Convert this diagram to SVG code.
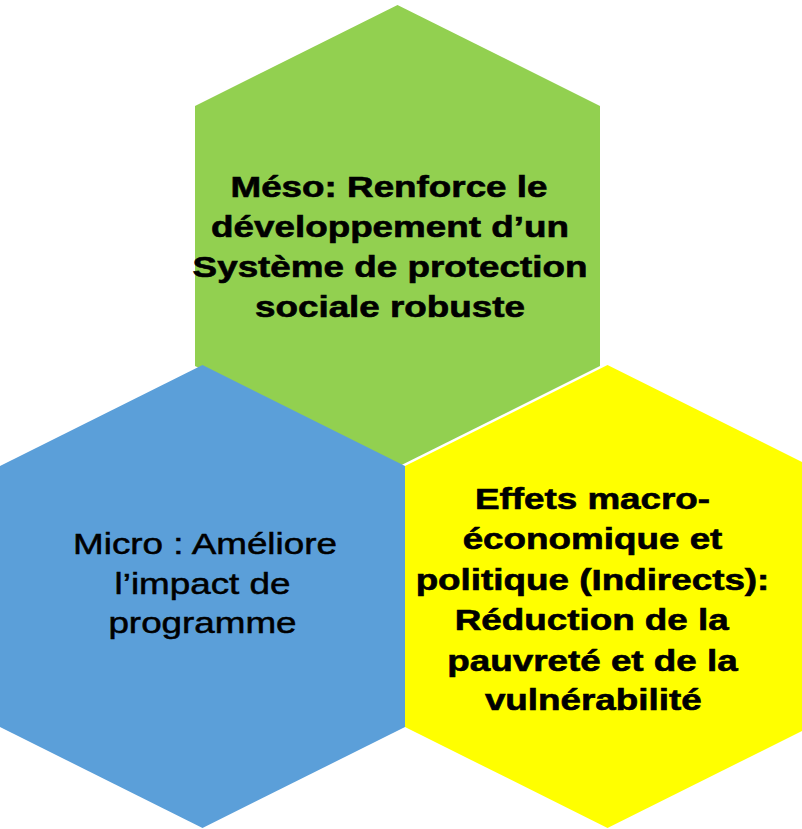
<svg xmlns="http://www.w3.org/2000/svg" width="802" height="829" viewBox="0 0 802 829">
  <style>
    .t { font-family: "Liberation Sans", Arial, sans-serif; font-size: 29px; fill: #000; text-anchor: middle; stroke: #000; stroke-width: 0.5px; }
    .b { font-weight: bold; stroke-width: 0.6px; }
  </style>
  <rect width="802" height="829" fill="#fff"/>
  <g id="meso">
    <polygon points="397.5,5 600,106 600,366 397.5,467 195,366 195,106" fill="#92D050"/>
  </g>
  <g id="micro">
    <polygon points="202.5,365 405,466 405,727 202.5,828 0,727 0,466" fill="#5B9FD9"/>
  </g>
  <g id="macro">
    <polygon points="607.5,365 810,466 810,727 607.5,828 405,727 405,466" fill="#FFFF00"/>
  </g>
  <g id="labels">
    <text class="t b" transform="translate(389,197) scale(1.27,1)">Méso: Renforce le</text>
    <text class="t b" transform="translate(390,236.5) scale(1.27,1)">développement d’un</text>
    <text class="t b" transform="translate(390,276.5) scale(1.27,1)">Système de protection</text>
    <text class="t b" transform="translate(390,316.5) scale(1.27,1)">sociale robuste</text>

    <text class="t" transform="translate(205,554) scale(1.27,1)">Micro : Améliore</text>
    <text class="t" transform="translate(202.5,594) scale(1.27,1)">l’impact de</text>
    <text class="t" transform="translate(202.5,633) scale(1.27,1)">programme</text>

    <text class="t b" transform="translate(592.5,508.5) scale(1.27,1)">Effets macro-</text>
    <text class="t b" transform="translate(592.5,549) scale(1.27,1)">économique et</text>
    <text class="t b" transform="translate(592.5,589.5) scale(1.27,1)">politique (Indirects):</text>
    <text class="t b" transform="translate(591.7,630) scale(1.27,1)">Réduction de la</text>
    <text class="t b" transform="translate(592.5,670.5) scale(1.27,1)">pauvreté et de la</text>
    <text class="t b" transform="translate(593.3,710) scale(1.27,1)">vulnérabilité</text>
  </g>
  <g id="connectors"></g>
</svg>
